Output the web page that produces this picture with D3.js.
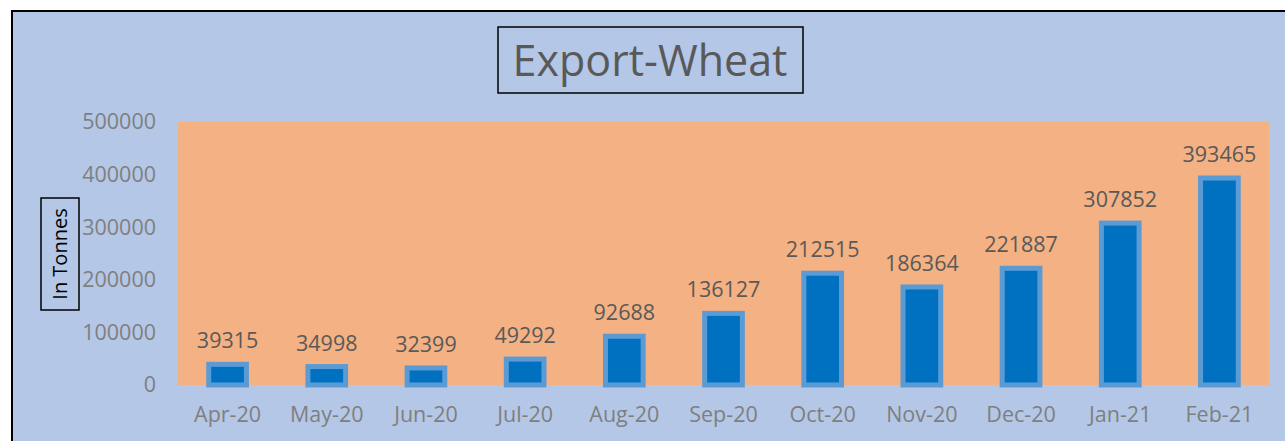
<!DOCTYPE html>
<html>
<head>
<meta charset="utf-8">
<script src="https://cdn.jsdelivr.net/npm/d3@7"></script>
<style>
  body { margin: 0; background: #fff; }
  svg { display: block; }
</style>
</head>
<body>
<div id="chart"></div>
<script>
const months = ["Apr-20", "May-20", "Jun-20", "Jul-20", "Aug-20", "Sep-20",
                "Oct-20", "Nov-20", "Dec-20", "Jan-21", "Feb-21"];
const tonnes = [39315, 34998, 32399, 49292, 92688, 136127,
                212515, 186364, 221887, 307852, 393465];
const yTicks = [0, 100000, 200000, 300000, 400000, 500000];

const width = 1285, height = 441;
const font = "'Open Sans', sans-serif";

const svg = d3.select("#chart").append("svg")
    .attr("width", width)
    .attr("height", height);

// chart area with border
svg.append("rect")
    .attr("x", 12).attr("y", 11)
    .attr("width", width + 10).attr("height", height + 10)
    .attr("fill", "#b4c7e7")
    .attr("stroke", "#000")
    .attr("stroke-width", 2);

const plot = { left: 178, right: 1269, top: 122, bottom: 385 };

const x = d3.scaleBand()
    .domain(months)
    .range([plot.left, plot.right])
    .paddingInner(0.62)
    .paddingOuter(0.31);

const y = d3.scaleLinear()
    .domain([0, 500000])
    .range([plot.bottom, plot.top]);

// plot background
svg.append("rect")
    .attr("x", plot.left).attr("y", plot.top)
    .attr("width", plot.right - plot.left)
    .attr("height", plot.bottom - plot.top)
    .attr("fill", "#f4b183");

// y axis
const yAxis = svg.append("g")
    .attr("transform", `translate(${plot.left - 22},0)`)
    .call(d3.axisLeft(y).tickValues(yTicks).tickSize(0).tickPadding(0).tickFormat(d3.format("d")));
yAxis.select(".domain").remove();
yAxis.selectAll("text")
    .attr("fill", "#7f7f7f")
    .style("font", `21.5px ${font}`);

// x axis
const xAxis = svg.append("g")
    .attr("transform", `translate(0,${plot.bottom + 22})`)
    .call(d3.axisBottom(x).tickSize(0).tickPadding(0));
xAxis.select(".domain").remove();
xAxis.selectAll("text")
    .attr("fill", "#7f7f7f")
    .style("font", `21.5px ${font}`);

// bars
svg.selectAll(".bar")
    .data(months)
    .join("rect")
    .attr("class", "bar")
    .attr("x", d => x(d))
    .attr("width", x.bandwidth())
    .attr("y", (d, i) => y(tonnes[i]))
    .attr("height", (d, i) => y(0) - y(tonnes[i]))
    .attr("fill", "#0070c0")
    .attr("stroke", "#5b9bd5")
    .attr("stroke-width", 5);

// data labels
svg.selectAll(".label")
    .data(months)
    .join("text")
    .attr("class", "label")
    .attr("x", d => x(d) + x.bandwidth() / 2)
    .attr("y", (d, i) => y(tonnes[i]) - 16)
    .attr("text-anchor", "middle")
    .attr("fill", "#595959")
    .style("font", `21.5px ${font}`)
    .text((d, i) => tonnes[i]);

// title
svg.append("rect")
    .attr("x", 498).attr("y", 27)
    .attr("width", 305).attr("height", 66)
    .attr("fill", "none")
    .attr("stroke", "#000")
    .attr("stroke-width", 1.5);
svg.append("text")
    .attr("x", 650).attr("y", 76)
    .attr("text-anchor", "middle")
    .attr("fill", "#595959")
    .style("font", `43px ${font}`)
    .text("Export-Wheat");

// y axis title
const yt = svg.append("g").attr("transform", "translate(60,254) rotate(-90)");
yt.append("rect")
    .attr("x", -56).attr("y", -19)
    .attr("width", 112).attr("height", 38)
    .attr("fill", "none")
    .attr("stroke", "#000")
    .attr("stroke-width", 1.5);
yt.append("text")
    .attr("text-anchor", "middle")
    .attr("dy", "0.35em")
    .attr("fill", "#000")
    .style("font", `20px ${font}`)
    .text("In Tonnes");
</script>
</body>
</html>
